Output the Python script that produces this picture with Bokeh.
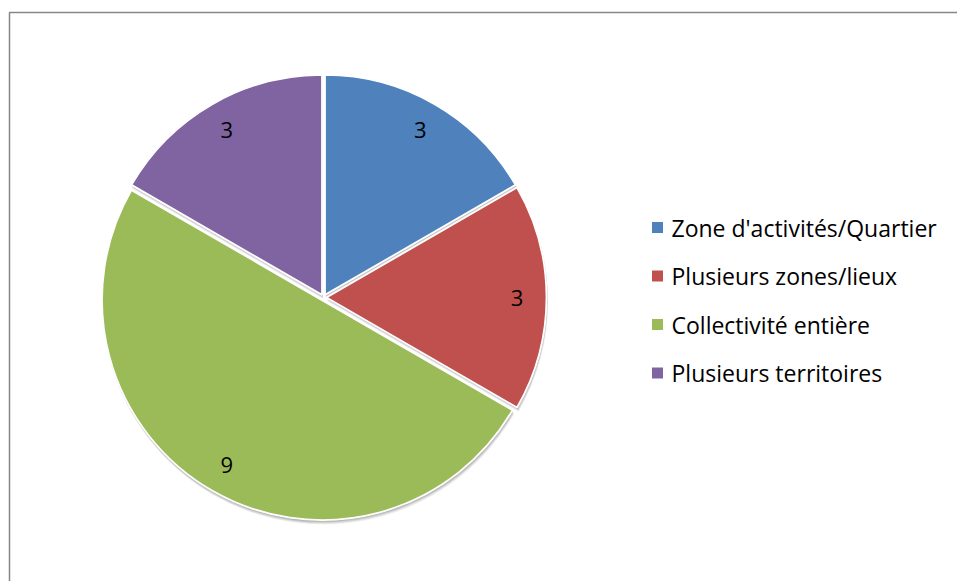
import numpy as np
from bokeh.plotting import figure
from bokeh.models import Range1d, ColumnDataSource
from bokeh.embed import file_html
from bokeh.resources import INLINE
from bokeh.core.properties import value

# ---- data ----
categories = ["Zone d'activités/Quartier", "Plusieurs zones/lieux",
              "Collectivité entière", "Plusieurs territoires"]
counts = [3, 3, 9, 3]
colors = ["#4F81BD", "#C0504D", "#9BBB59", "#8064A2"]

# ---- layout ----
W, H = 957, 581
CX, CY, R = 323, 284, 220
EXPLODE = 3.0
LABEL_FRAC = 0.88
FONT = "Open Sans"

p = figure(width=W, height=H, x_range=Range1d(0, W), y_range=Range1d(0, H),
           output_backend="svg", toolbar_location=None, min_border=0,
           x_axis_location=None, y_axis_location=None)
p.grid.visible = False
p.outline_line_color = None
p.background_fill_color = "white"
p.border_fill_color = "white"

# chart border (right/bottom sides extend beyond the visible area)
p.quad(left=[9.0], right=[W + 50], top=[H - 12], bottom=[-50],
       fill_color=None, line_color="#878787", line_width=1.5)

total = float(sum(counts))
cum = np.concatenate([[0], np.cumsum(counts)])
# clockwise from 12 o'clock
ends = np.pi / 2 - cum[:-1] / total * 2 * np.pi
starts = np.pi / 2 - cum[1:] / total * 2 * np.pi
mids = (starts + ends) / 2
xs = CX + EXPLODE * np.cos(mids)
ys = CY + EXPLODE * np.sin(mids)

src = ColumnDataSource(dict(x=xs, y=ys, start=starts, end=ends, color=colors,
                            cat=categories, n=counts,
                            lx=CX + LABEL_FRAC * R * np.cos(mids),
                            ly=CY + LABEL_FRAC * R * np.sin(mids),
                            lab=[str(c) for c in counts]))

# soft shadow
for k, a in [(1, 0.10), (2, 0.10), (3, 0.08), (4, 0.06)]:
    sh = ColumnDataSource(dict(x=xs + 0.3 * k, y=ys - k, start=starts, end=ends))
    p.wedge(x="x", y="y", radius=R + 0.5, start_angle="start", end_angle="end",
            source=sh, fill_color="#000000", fill_alpha=a, line_color=None)

p.wedge(x="x", y="y", radius=R, start_angle="start", end_angle="end",
        source=src, fill_color="color", line_color="white", line_width=1.8)

p.text(x="lx", y="ly", text="lab", source=src, text_align="center",
       text_baseline="middle", text_font=value(FONT), text_font_size="22px",
       text_color="black")

# legend
LX, LY0, LDY = 657, 354, 48.5
leg = ColumnDataSource(dict(x=[LX] * len(categories),
                            y=[LY0 - i * LDY for i in range(len(categories))],
                            tx=[LX + 14] * len(categories),
                            color=colors, cat=categories))
p.rect(x="x", y="y", width=11, height=11, source=leg, fill_color="color",
       line_color=None)
p.text(x="tx", y="y", text="cat", source=leg, text_align="left",
       text_baseline="middle", text_font=value(FONT), text_font_size="23px",
       text_color="black")

open("out.html", "w").write(file_html(p, INLINE))
